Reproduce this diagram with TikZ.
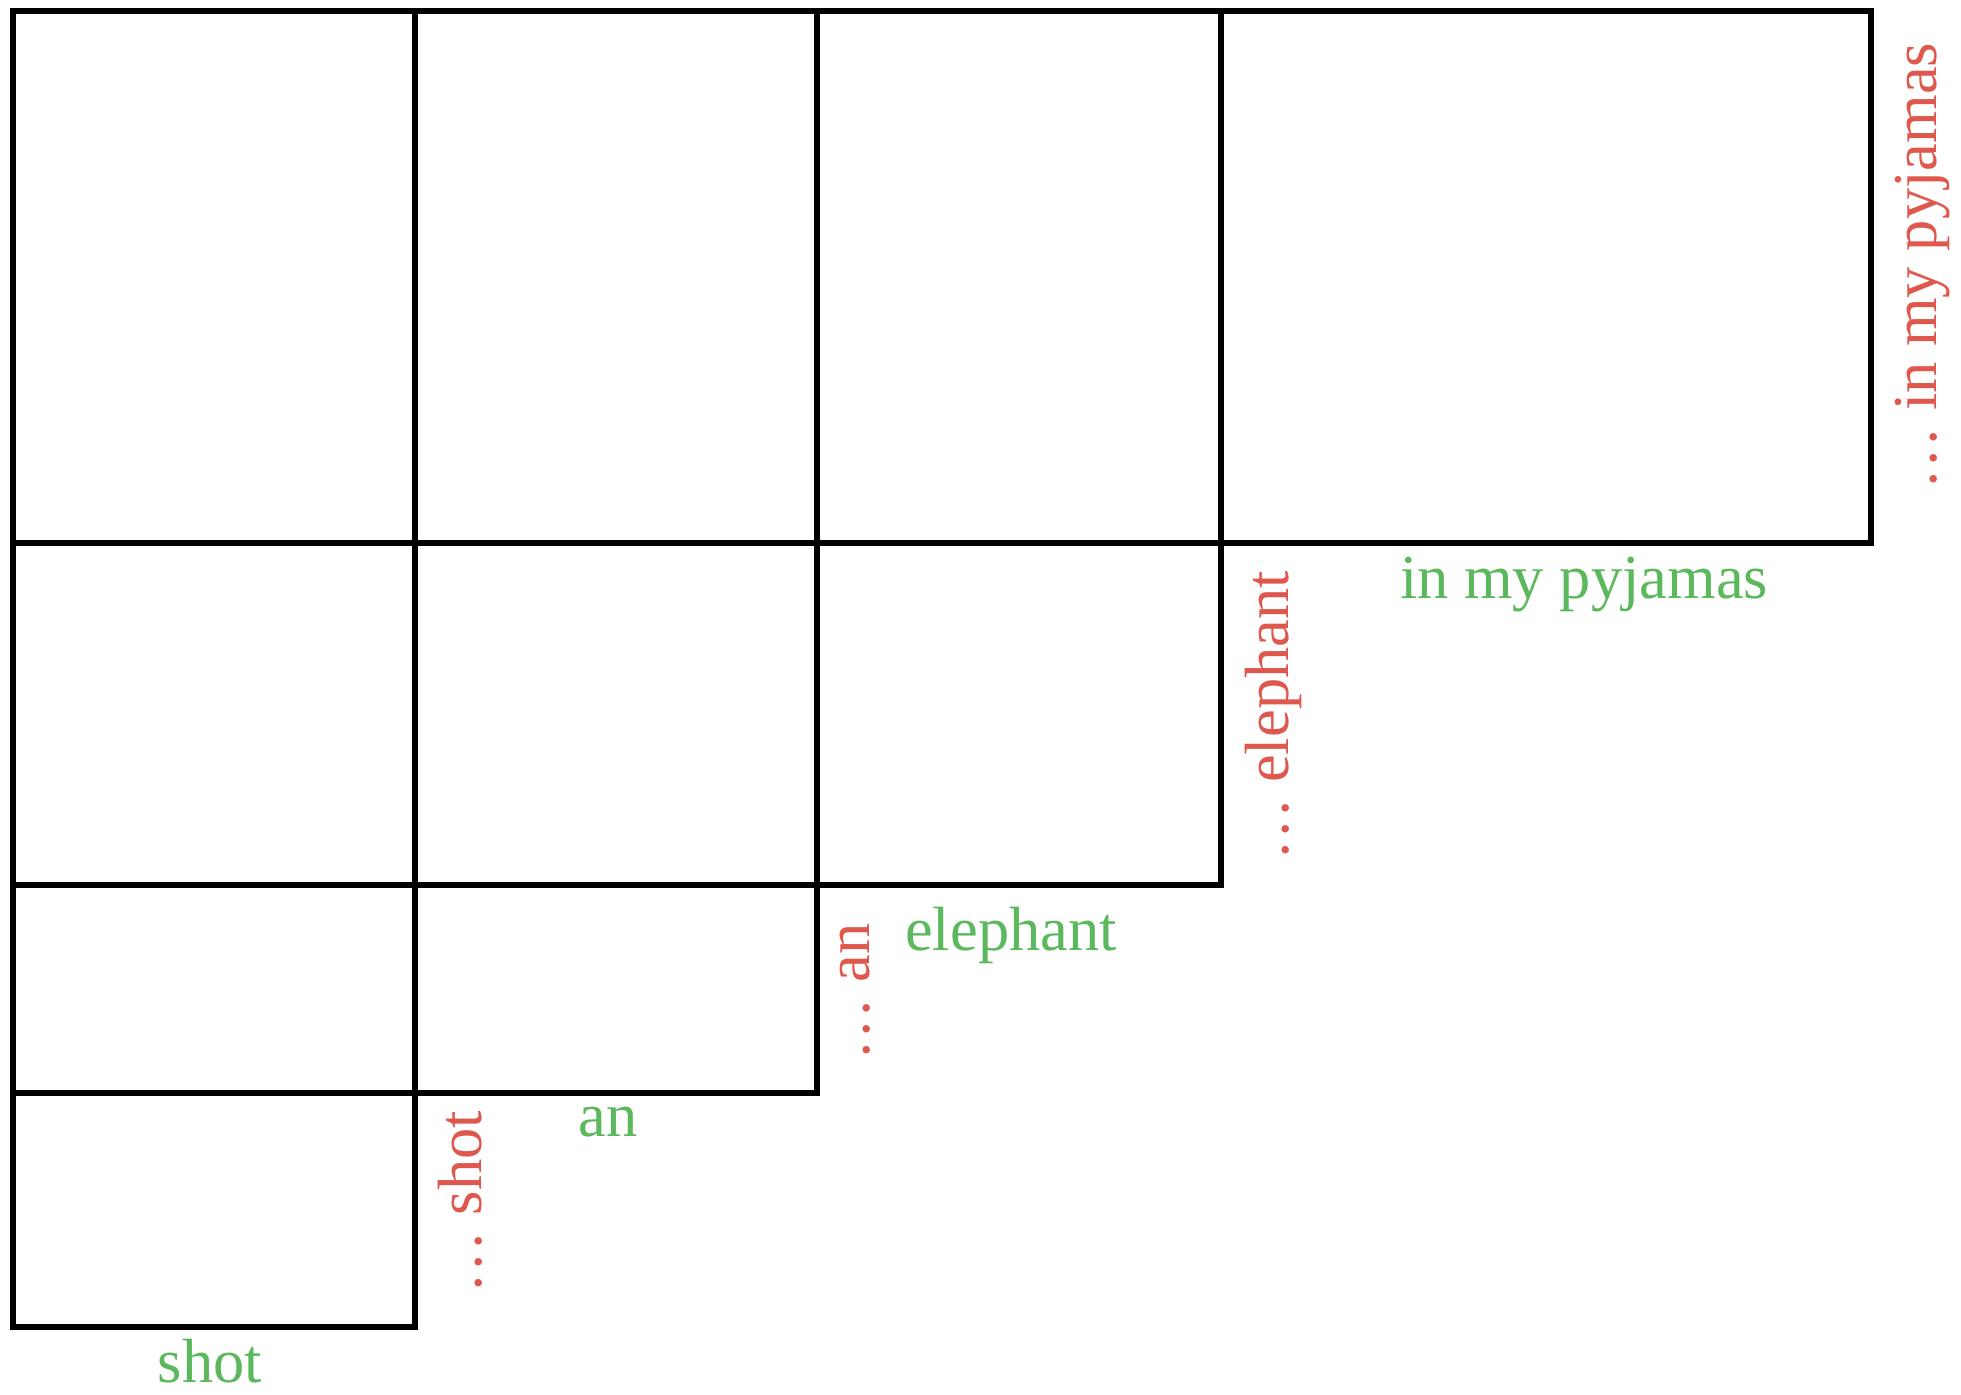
\documentclass[tikz,border=0pt]{standalone}
\usepackage{fontspec}
\setmainfont{Liberation Serif}

\definecolor{wordgreen}{RGB}{92,184,92}
\definecolor{spanred}{RGB}{222,88,78}
\tikzset{every picture/.style={line width=2.1pt}}
\tikzset{word/.style={color=wordgreen,anchor=base,font=\fontsize{22.5}{27}\selectfont},
         span/.style={color=spanred,anchor=base,rotate=90,font=\fontsize{22.5}{27}\selectfont}}

\begin{document}
\begin{tikzpicture}[x=0.36pt,y=0.36pt,yscale=-1]
\useasboundingbox (0,0) rectangle (1961,1394);

%Shape: Rectangle row 1
\draw   (13,11) rectangle (415,543) ;
\draw   (415,11) rectangle (817,543) ;
\draw   (817,11) rectangle (1221,543) ;
\draw   (1221,11) rectangle (1871,543) ;
%Shape: Rectangle row 2
\draw   (13,543) rectangle (415,885) ;
\draw   (415,543) rectangle (817,885) ;
\draw   (817,543) rectangle (1221,885) ;
%Shape: Rectangle row 3
\draw   (13,885) rectangle (415,1093) ;
\draw   (415,885) rectangle (817,1093) ;
%Shape: Rectangle row 4
\draw   (13,1093) rectangle (415,1327) ;

% Text Node
\node [word] (shotword) at (210,1382) {shot};
% Text Node
\node [word] (anword) at (608,1136) {an};
% Text Node
\node [word] (elephantword) at (1011,950) {elephant};
% Text Node
\node [word] (pyjamasword) at (1584,598) {in my pyjamas};

% Text Node
\node [span] (shotspan) at (481,1202) {\ldots{} shot};
% Text Node
\node [span] (anspan) at (869,992) {\ldots{} an};
% Text Node
\node [span] (elephantspan) at (1288,716) {\ldots{} elephant};
% Text Node
\node [span] (pyjamasspan) at (1936,266) {\ldots{} in my pyjamas};

\end{tikzpicture}
\end{document}
